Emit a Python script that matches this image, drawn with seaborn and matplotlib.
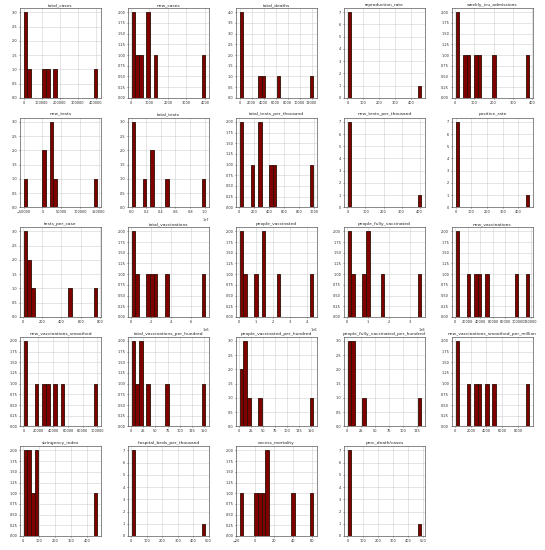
import numpy as np
import pandas as pd
import seaborn as sns
import matplotlib
matplotlib.use('Agg')
import matplotlib.pyplot as plt

# one list of 8 values per column
total_cases = [1000, 2000, 5000, 30000, 110000, 130000, 170000, 409000]
new_cases = [50, 100, 300, 500, 900, 950, 1300, 4020]
total_deaths = [10, 50, 200, 400, 3500, 4000, 6500, 12300]
reproduction_rate = [0.8, 0.9, 1.0, 1.1, 1.2, 1.0, 0.95, 465]
weekly_icu_admissions = [2, 10, 45, 65, 100, 125, 200, 386]
new_tests = [-50000, 1000, 5000, 20000, 22000, 25000, 30000, 146500]
total_tests = [10000, 100000, 300000, 1700000, 2600000, 2800000, 4700000, 10100000]
total_tests_per_thousand = [5, 30, 170, 260, 280, 420, 470, 995]
new_tests_per_thousand = [0.5, 1, 1.5, 2, 2.5, 3, 4, 410]
positive_rate = [0.02, 0.05, 0.08, 0.1, 0.12, 0.15, 0.2, 470]
tests_per_case = [10, 20, 30, 50, 60, 90, 480, 773]
total_vaccinations = [50000, 200000, 500000, 1600000, 2000000, 2400000, 3500000, 7470000]
people_vaccinated = [20000, 100000, 300000, 950000, 1400000, 1450000, 2300000, 4370000]
people_fully_vaccinated = [10000, 50000, 250000, 800000, 950000, 1000000, 1700000, 3560000]
new_vaccinations = [500, 2000, 20000, 32000, 38000, 50000, 97000, 118000]
new_vaccinations_smoothed = [300, 1500, 17000, 27000, 33000, 42000, 52000, 100000]
total_vaccinations_per_hundred = [1, 3, 10, 17, 20, 35, 72, 153]
people_vaccinated_per_hundred = [1, 5, 9, 10, 12, 20, 42, 155]
people_fully_vaccinated_per_hundred = [0.5, 2, 4, 8, 9, 12, 30, 133]
new_vaccinations_smoothed_per_million = [50, 200, 1600, 2600, 3100, 4000, 5000, 9470]
stringency_index = [5, 15, 30, 50, 55, 75, 85, 467]
hospital_beds_per_thousand = [2, 3, 4, 5, 6, 7, 8, 480]
excess_mortality = [-16.4, 1, 5, 9, 12, 13, 40, 61.2]
perc_death_cases = [1, 1.5, 2, 2.5, 3, 1.2, 1.8, 489]

columns = [
    ('total_cases', total_cases), ('new_cases', new_cases),
    ('total_deaths', total_deaths), ('reproduction_rate', reproduction_rate),
    ('weekly_icu_admissions', weekly_icu_admissions), ('new_tests', new_tests),
    ('total_tests', total_tests), ('total_tests_per_thousand', total_tests_per_thousand),
    ('new_tests_per_thousand', new_tests_per_thousand), ('positive_rate', positive_rate),
    ('tests_per_case', tests_per_case), ('total_vaccinations', total_vaccinations),
    ('people_vaccinated', people_vaccinated), ('people_fully_vaccinated', people_fully_vaccinated),
    ('new_vaccinations', new_vaccinations), ('new_vaccinations_smoothed', new_vaccinations_smoothed),
    ('total_vaccinations_per_hundred', total_vaccinations_per_hundred),
    ('people_vaccinated_per_hundred', people_vaccinated_per_hundred),
    ('people_fully_vaccinated_per_hundred', people_fully_vaccinated_per_hundred),
    ('new_vaccinations_smoothed_per_million', new_vaccinations_smoothed_per_million),
    ('stringency_index', stringency_index), ('hospital_beds_per_thousand', hospital_beds_per_thousand),
    ('excess_mortality', excess_mortality), ('perc_death/cases', perc_death_cases),
]

sns.set_style('whitegrid', {'axes.edgecolor': '0.35', 'grid.color': '0.82',
                            'xtick.bottom': True, 'ytick.left': True})
plt.rcParams['font.family'] = ['DejaVu Sans']

fig, axes = plt.subplots(5, 5, figsize=(5.45, 5.5), dpi=100)
fig.subplots_adjust(left=20/545, right=533/545, top=1-8/550, bottom=1-536/550,
                    wspace=0.33, hspace=0.22)

for ax, (name, vals) in zip(axes.flat, columns):
    sns.histplot(x=np.array(vals, dtype=float), bins=20, ax=ax, color='#800000',
                 edgecolor='#2a1005', linewidth=0.6, alpha=1)
    ax.set_title(name, fontsize=3.2, pad=1.5)
    ax.set_xlabel('')
    ax.set_ylabel('')
    ax.tick_params(labelsize=2.5, length=1, width=0.4, pad=1)
    ax.xaxis.get_offset_text().set_fontsize(2.5)
    for s in ax.spines.values():
        s.set_linewidth(0.5)
    ax.grid(True, linewidth=0.4)

axes[4][4].set_visible(False)

fig.savefig('out.png', dpi=100)
